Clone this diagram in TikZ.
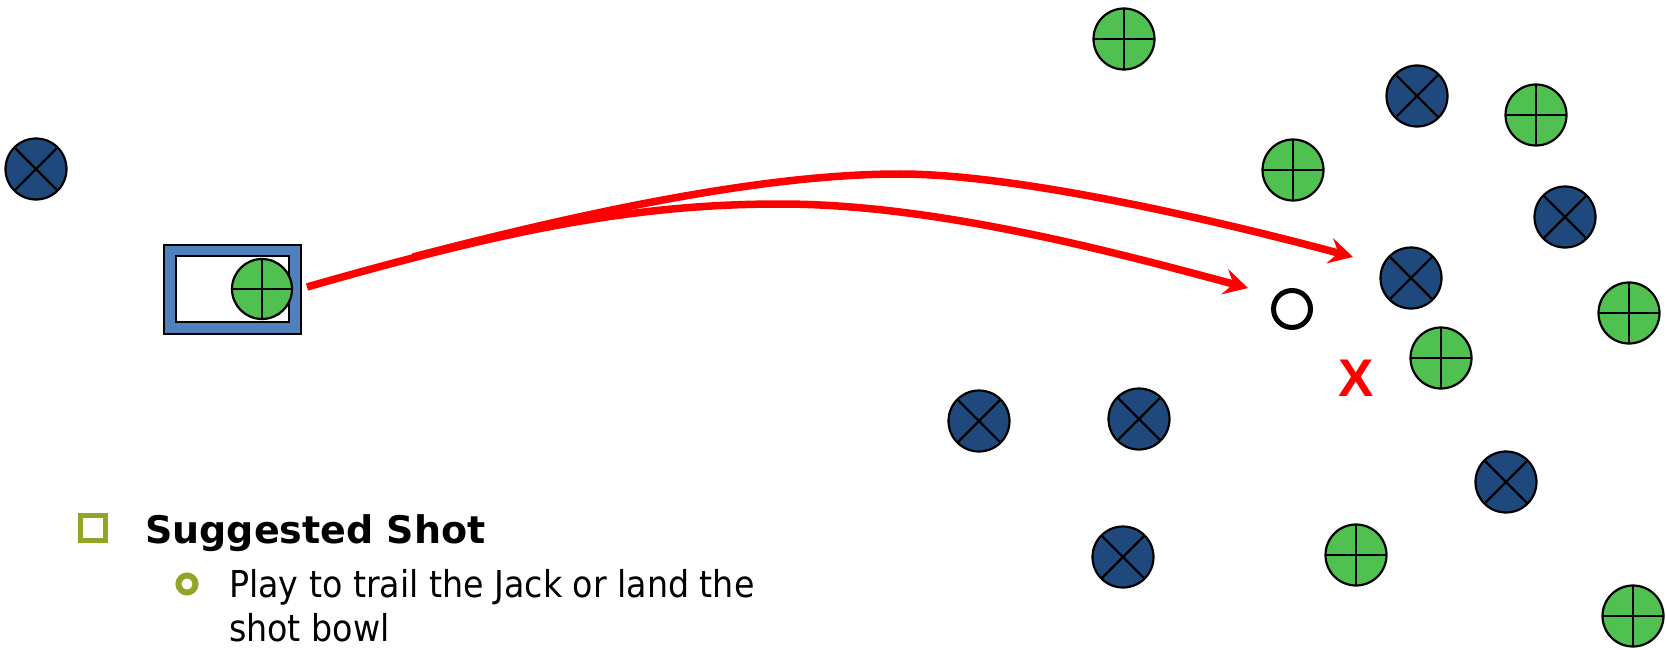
\documentclass[tikz,border=0pt]{standalone}
\usepackage{fontspec}
\usetikzlibrary{arrows.meta}
\newfontfamily\titlefont{DejaVu Sans}
\newfontfamily\bodyfont{DejaVu Sans Condensed}
\newfontfamily\xfont{Liberation Sans}
\definecolor{bowlgreen}{RGB}{80,192,80}
\definecolor{bowlblue}{RGB}{31,73,125}
\definecolor{matblue}{RGB}{79,129,189}
\definecolor{olive}{RGB}{145,165,40}
\definecolor{shotred}{RGB}{255,0,0}
\tikzset{
  bowl/.style={circle, draw=black, line width=2.2pt, minimum size=61pt, inner sep=0pt},
  greenbowl/.style={bowl, fill=bowlgreen, path picture={
      \draw[line width=2.4pt] (path picture bounding box.north) -- (path picture bounding box.south);
      \draw[line width=2.4pt] (path picture bounding box.west) -- (path picture bounding box.east);}},
  bluebowl/.style={bowl, fill=bowlblue, path picture={
      \draw[line width=2.4pt] (path picture bounding box.north west) -- (path picture bounding box.south east);
      \draw[line width=2.4pt] (path picture bounding box.south west) -- (path picture bounding box.north east);}},
  jack/.style={circle, draw=black, line width=5pt, minimum size=37pt, inner sep=0pt},
  shotline/.style={draw=shotred, line width=7.5pt, -{Stealth[length=24pt, width=26pt, inset=9pt]}},
  bodytext/.style={anchor=base west, inner sep=0pt, font=\bodyfont\fontsize{37}{44}\selectfont},
}
\begin{document}
\begin{tikzpicture}[x=1pt,y=-1pt]
\useasboundingbox (0,0) rectangle (1666,650);
% mat
\node[draw=black, line width=2.2pt, fill=matblue, minimum width=137pt, minimum height=89pt, inner sep=0pt] (mat) at (232.5,289.5) {};
\node[draw=black, line width=2.2pt, fill=white, minimum width=113pt, minimum height=66pt, inner sep=0pt] (matin) at (232.5,289) {};
\node[greenbowl, minimum size=60pt] (gm) at (262,289) {};
% green bowls
\node[greenbowl] (g1) at (1124,39) {};
\node[greenbowl] (g2) at (1536,115) {};
\node[greenbowl] (g3) at (1293,170) {};
\node[greenbowl] (g4) at (1629,313) {};
\node[greenbowl] (g5) at (1441,358) {};
\node[greenbowl] (g6) at (1356,555) {};
\node[greenbowl] (g7) at (1633,616) {};
% blue bowls
\node[bluebowl] (b1) at (36,169) {};
\node[bluebowl] (b2) at (1417,96) {};
\node[bluebowl] (b3) at (1565,217) {};
\node[bluebowl] (b4) at (1411,278) {};
\node[bluebowl] (b5) at (979,421) {};
\node[bluebowl] (b6) at (1139,419) {};
\node[bluebowl] (b7) at (1506,482) {};
\node[bluebowl] (b8) at (1123,557) {};
% jack
\node[jack] (jk) at (1292,309) {};
% target mark
\node[text=shotred, font=\xfont\bfseries\fontsize{53}{53}\selectfont, inner sep=0pt] (tx) at (1356,378) {X};
% shot lines
\coordinate (start) at (307,287);
\coordinate (branch) at (413,257);
\coordinate (lowpeak) at (780,204);
\coordinate (lowtip) at (1248,288);
\coordinate (uppeak) at (900,174);
\coordinate (uptip) at (1353,257);
\draw[shotline] (start) .. controls (499,232) and (630,204) .. (lowpeak)
   .. controls (930,204) and (1100,248) .. (lowtip);
\draw[shotline] (branch) .. controls (654,194) and (800,174) .. (uppeak)
   .. controls (1020,174) and (1227,223) .. (uptip);
% text
\node[draw=olive, line width=5pt, minimum size=25pt, inner sep=0pt] (sq) at (93,528) {};
\node[anchor=base west, inner sep=0pt, font=\titlefont\bfseries\fontsize{38}{44}\selectfont] (title) at (145,543) {Suggested Shot};
\node[circle, draw=olive, line width=6pt, minimum size=17pt, inner sep=0pt] (dot) at (187,584) {};
\node[bodytext] (l1) at (229,597) {Play to trail the Jack or land the};
\node[bodytext] (l2) at (229,641) {shot bowl};
\end{tikzpicture}
\end{document}
